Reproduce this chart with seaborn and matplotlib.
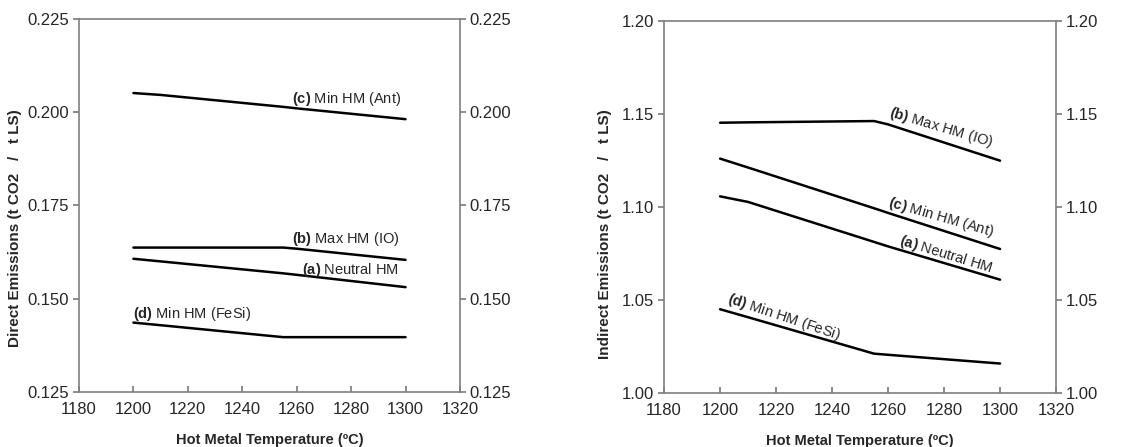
"""
Direct and indirect CO2 emissions vs hot metal temperature.
"""

import pandas as pd
import seaborn as sns
import matplotlib.pyplot as plt

# temperatures (degC)
temps = [1200, 1210, 1255, 1260, 1300]

# direct emissions (t CO2 / t LS)
direct_a = [0.1607, 0.1600, 0.1568, 0.1564, 0.1531]
direct_b = [0.1637, 0.1637, 0.1637, 0.1634, 0.1604]
direct_c = [0.2051, 0.2046, 0.2014, 0.2010, 0.1981]
direct_d = [0.1436, 0.1429, 0.1397, 0.1397, 0.1397]

# indirect emissions (t CO2 / t LS)
indirect_a = [1.1057, 1.1027, 1.0812, 1.0788, 1.0609]
indirect_b = [1.1453, 1.1455, 1.1462, 1.1444, 1.1249]
indirect_c = [1.1260, 1.1212, 1.0993, 1.0968, 1.0774]
indirect_d = [1.0450, 1.0407, 1.0211, 1.0205, 1.0158]

series_names = ["a", "b", "c", "d"]
label_text = {
    "a": r"$\mathbf{(a)}$ Neutral HM",
    "b": r"$\mathbf{(b)}$ Max HM (IO)",
    "c": r"$\mathbf{(c)}$ Min HM (Ant)",
    "d": r"$\mathbf{(d)}$ Min HM (FeSi)",
}

# label anchors (x, y, rotation)
direct_labels = {
    "c": (1258.4, 0.2036, 0),
    "b": (1258.4, 0.1661, 0),
    "a": (1261.8, 0.1576, 0),
    "d": (1200.0, 0.1460, 0),
}
indirect_labels = {
    "b": (1260.7, 1.1511, -16.5),
    "c": (1260.1, 1.1027, -16),
    "a": (1264.2, 1.0821, -17),
    "d": (1202.9, 1.0507, -18.5),
}


def to_long(values):
    rows = []
    for name, vals in zip(series_names, values):
        for t, v in zip(temps, vals):
            rows.append({"temp": t, "value": v, "case": name})
    return pd.DataFrame(rows)


def style_axes(ax, ylim, yticks, fmt, ylabel, label_xy):
    ax.set_xlim(1180, 1320)
    ax.set_xticks(range(1180, 1321, 20))
    ax.set_ylim(*ylim)
    ax.set_yticks(yticks)
    ax.set_yticklabels([fmt.format(v) for v in yticks])
    for side in ["left", "right", "top", "bottom"]:
        ax.spines[side].set_visible(True)
        ax.spines[side].set_color("#7f7f7f")
        ax.spines[side].set_linewidth(1.2)
    ax.tick_params(axis="y", which="both", left=True, right=True,
                   labelright=True, direction="out", length=4,
                   color="#7f7f7f", labelsize=12, pad=3)
    ax.tick_params(axis="x", bottom=True, direction="in", length=4,
                   color="#7f7f7f", labelsize=12, pad=7)
    ax.set_xlabel("Hot Metal Temperature (ºC)", fontsize=10.5,
                  fontweight="bold", labelpad=12)
    ax.set_ylabel(ylabel, fontsize=11, fontweight="bold")
    ax.yaxis.set_label_coords(*label_xy)
    ax.grid(False)


def main():
    sns.set_theme(style="white")
    plt.rcParams["font.family"] = ["Liberation Sans", "DejaVu Sans"]
    plt.rcParams["mathtext.fontset"] = "custom"
    plt.rcParams["mathtext.rm"] = "Liberation Sans"
    plt.rcParams["mathtext.bf"] = "Liberation Sans:bold"

    fig = plt.figure(figsize=(11.45, 4.47), dpi=100)
    ax1 = fig.add_axes([0.069, 0.123, 0.3327, 0.835])
    ax2 = fig.add_axes([0.580, 0.121, 0.3423, 0.832])

    direct = to_long([direct_a, direct_b, direct_c, direct_d])
    indirect = to_long([indirect_a, indirect_b, indirect_c, indirect_d])

    sns.lineplot(data=direct, x="temp", y="value", hue="case",
                 palette=["black"] * 4, linewidth=1.8, ax=ax1, legend=False)
    sns.lineplot(data=indirect, x="temp", y="value", hue="case",
                 palette=["black"] * 4, linewidth=1.8, ax=ax2, legend=False)

    style_axes(ax1, (0.125, 0.225), [0.125, 0.150, 0.175, 0.200, 0.225],
               "{:.3f}", "Direct Emissions (t CO2   /   t LS)",
               (-0.150, 0.44))
    style_axes(ax2, (1.00, 1.20), [1.00, 1.05, 1.10, 1.15, 1.20],
               "{:.2f}", "Indirect Emissions (t CO2   /   t LS)",
               (-0.133, 0.428))

    for ax, labels in [(ax1, direct_labels), (ax2, indirect_labels)]:
        for key, (x, y, rot) in labels.items():
            ax.text(x, y, label_text[key], fontsize=10.5, ha="left",
                    va="center", rotation=rot, rotation_mode="anchor")

    fig.savefig("out.png", dpi=100)


if __name__ == "__main__":
    main()
